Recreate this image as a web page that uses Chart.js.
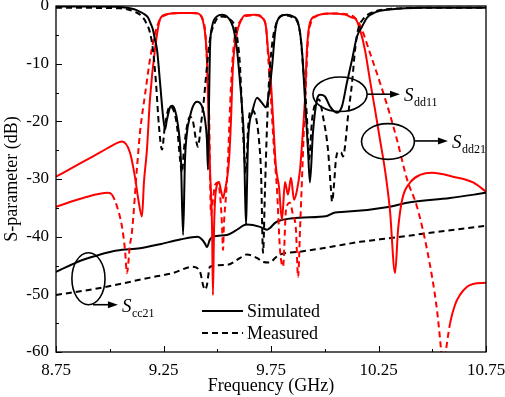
<!DOCTYPE html>
<html><head><meta charset="utf-8">
<script src="https://cdn.jsdelivr.net/npm/chart.js@4/dist/chart.umd.min.js"></script>
<style>html,body{margin:0;padding:0;background:#fff}#wrap{width:505px;height:397px;position:relative}</style>
</head><body><div id="wrap"><canvas id="c"></canvas></div>
<script>
// ---- axis ticks ----
const xTicks = [8.75, 9.0, 9.25, 9.5, 9.75, 10.0, 10.25, 10.5, 10.75];
const yTicks = [0, -5, -10, -15, -20, -25, -30, -35, -40, -45, -50, -55, -60];

// ---- Sdd21 simulated (red solid) ----
const sdd21SimFreq = [8.750,8.862,8.955,9.038,9.057,9.094,9.117,9.131,9.150,9.159,9.173,9.187,9.210,9.234,9.257,9.327,9.396,9.420,9.434,9.443,9.452,9.457,9.466,9.476,9.480,9.485,9.490,9.499,9.508,9.517,9.527,9.536,9.545,9.555,9.564,9.573,9.592,9.606,9.629,9.676,9.708,9.727,9.736,9.745,9.759,9.773,9.787,9.801,9.815,9.829,9.843,9.857,9.871,9.885,9.899,9.908,9.917,9.931,9.955,10.024,10.094,10.127,10.145,10.164,10.187,10.210,10.234,10.257,10.280,10.303,10.327,10.341,10.360,10.397,10.443,10.499,10.597,10.690,10.750];
const sdd21SimDb = [-29.6,-27.3,-25.4,-23.7,-23.5,-25.4,-29.6,-33.1,-36.5,-30.6,-24.9,-16.2,-7.6,-2.3,-1.5,-1.2,-1.2,-1.5,-2.7,-4.6,-9.3,-16.2,-27.9,-38.8,-50.1,-38.8,-33.6,-31.0,-30.5,-31.9,-33.3,-31.9,-30.1,-26.6,-19.7,-10.5,-4.6,-2.9,-1.6,-1.5,-2.0,-3.7,-7.6,-10.5,-19.2,-27.9,-31.3,-37.1,-30.5,-32.7,-29.8,-33.6,-31.9,-28.4,-21.4,-16.2,-7.6,-2.9,-1.8,-1.3,-1.5,-2.0,-2.3,-4.1,-7.6,-12.8,-18.0,-23.2,-28.4,-35.3,-46.3,-38.8,-33.6,-30.6,-29.3,-28.9,-29.6,-30.6,-32.2];

// ---- Sdd21 measured (red dashed) ----
const sdd21MeasFreq = [8.750,8.876,8.992,9.010,9.034,9.057,9.071,9.080,9.094,9.103,9.127,9.141,9.164,9.187,9.210,9.234,9.257,9.327,9.410,9.429,9.443,9.452,9.462,9.466,9.471,9.480,9.490,9.503,9.513,9.522,9.527,9.531,9.541,9.550,9.559,9.569,9.583,9.606,9.629,9.690,9.713,9.727,9.736,9.750,9.764,9.778,9.792,9.806,9.820,9.838,9.852,9.866,9.876,9.885,9.894,9.903,9.913,9.922,9.936,9.960,10.024,10.117,10.155,10.173,10.210,10.257,10.303,10.336,10.383,10.429,10.476,10.522,10.541,10.550,10.564,10.583,10.606,10.629,10.662,10.690,10.750];
const sdd21MeasDb = [-34.8,-33.3,-32.4,-32.7,-34.8,-38.3,-42.3,-46.3,-41.4,-39.3,-27.9,-21.8,-15.4,-9.3,-4.9,-2.3,-1.6,-1.2,-1.3,-2.0,-4.1,-9.3,-18.0,-28.4,-36.2,-33.6,-31.0,-30.6,-32.7,-37.9,-42.3,-37.9,-32.7,-26.6,-18.0,-10.5,-4.9,-2.7,-1.8,-1.6,-2.2,-3.7,-8.4,-16.2,-24.9,-31.9,-42.3,-45.2,-35.3,-34.1,-36.2,-38.8,-47.0,-38.8,-30.1,-21.4,-12.8,-5.8,-2.9,-1.8,-1.3,-1.5,-2.7,-4.1,-8.1,-13.3,-18.8,-23.2,-30.1,-34.8,-42.3,-52.7,-59.6,-63.0,-59.6,-55.0,-51.8,-50.1,-48.7,-48.2,-48.0];

// ---- Sdd11 simulated (black solid) ----
const sdd11SimFreq = [8.750,8.955,9.080,9.117,9.141,9.164,9.178,9.192,9.201,9.210,9.220,9.234,9.248,9.257,9.266,9.280,9.290,9.303,9.317,9.331,9.341,9.350,9.359,9.373,9.387,9.406,9.429,9.443,9.452,9.457,9.462,9.466,9.476,9.499,9.522,9.550,9.573,9.592,9.606,9.615,9.624,9.629,9.634,9.638,9.643,9.662,9.685,9.708,9.727,9.736,9.755,9.769,9.783,9.825,9.852,9.876,9.894,9.908,9.922,9.931,9.945,9.964,9.978,10.001,10.024,10.057,10.080,10.103,10.127,10.150,10.173,10.197,10.234,10.303,10.457,10.750];
const sdd11SimDb = [-0.1,-0.1,-0.3,-0.6,-1.0,-1.5,-2.0,-3.2,-4.1,-5.8,-7.6,-13.3,-19.2,-21.4,-19.7,-17.6,-17.3,-18.0,-20.6,-26.6,-39.7,-26.6,-22.0,-19.2,-17.4,-16.6,-17.4,-19.7,-23.2,-28.4,-16.2,-7.6,-3.6,-1.8,-1.5,-2.0,-3.6,-7.6,-13.3,-17.4,-23.2,-31.9,-37.9,-31.9,-23.7,-18.5,-15.9,-16.8,-17.6,-16.2,-10.5,-4.6,-2.3,-1.5,-1.8,-2.9,-7.6,-16.2,-24.9,-30.6,-22.0,-16.2,-15.4,-15.7,-17.4,-18.5,-17.4,-13.3,-9.3,-5.3,-3.6,-2.0,-1.1,-0.6,-0.3,-0.3];

// ---- Sdd11 measured (black dashed) ----
const sdd11MeasFreq = [8.750,9.048,9.117,9.150,9.169,9.187,9.201,9.215,9.229,9.243,9.257,9.280,9.299,9.313,9.327,9.336,9.345,9.359,9.373,9.387,9.401,9.410,9.424,9.438,9.452,9.466,9.485,9.513,9.559,9.583,9.597,9.606,9.620,9.634,9.643,9.657,9.676,9.694,9.704,9.713,9.722,9.731,9.741,9.755,9.773,9.806,9.852,9.885,9.899,9.917,9.927,9.941,9.960,9.973,9.992,10.015,10.029,10.034,10.043,10.052,10.062,10.076,10.085,10.094,10.108,10.127,10.141,10.155,10.178,10.210,10.280,10.490,10.750];
const sdd11MeasDb = [-0.3,-0.4,-1.0,-1.8,-2.9,-4.6,-7.6,-13.3,-20.9,-24.9,-20.6,-17.4,-18.3,-20.9,-26.6,-28.9,-24.9,-20.9,-19.2,-20.0,-23.2,-24.4,-20.6,-16.2,-10.5,-5.8,-3.2,-1.8,-2.3,-3.7,-6.7,-10.5,-22.0,-28.9,-21.4,-18.0,-18.8,-23.2,-29.3,-42.8,-31.9,-21.4,-12.8,-6.7,-3.2,-1.6,-2.0,-4.6,-10.5,-19.2,-26.6,-19.7,-16.6,-16.2,-19.2,-24.9,-31.9,-33.9,-31.0,-26.6,-25.3,-25.4,-26.1,-24.4,-19.2,-13.3,-7.6,-4.1,-2.3,-1.3,-0.6,-0.3,-0.3];

// ---- Scc21 simulated (black solid) ----
const scc21SimFreq = [8.750,8.876,8.955,9.034,9.141,9.234,9.327,9.410,9.429,9.443,9.452,9.466,9.480,9.545,9.592,9.620,9.638,9.699,9.731,9.745,9.769,9.792,9.885,10.010,10.048,10.094,10.303,10.383,10.583,10.750];
const scc21SimDb = [-46.1,-44.0,-43.1,-42.4,-42.0,-41.3,-40.5,-40.0,-40.5,-41.2,-41.8,-40.5,-40.0,-39.7,-38.8,-38.1,-37.9,-38.3,-38.8,-38.5,-37.6,-37.2,-36.7,-36.4,-35.8,-35.7,-34.8,-34.1,-33.3,-32.4];

// ---- Scc21 measured (black dashed) ----
const scc21MeasFreq = [8.750,8.955,9.187,9.294,9.387,9.420,9.434,9.443,9.452,9.466,9.545,9.606,9.638,9.685,9.713,9.745,9.769,9.792,9.885,10.024,10.164,10.317,10.536,10.750];
const scc21MeasDb = [-50.1,-48.9,-47.1,-46.3,-45.2,-46.1,-48.4,-49.2,-48.4,-45.2,-44.9,-43.7,-43.1,-43.7,-44.4,-44.5,-43.7,-43.1,-42.6,-41.8,-40.9,-40.2,-39.1,-38.1];

const SERIF = "'Liberation Serif', 'Times New Roman', serif";
Chart.defaults.font.family = SERIF;
Chart.defaults.color = '#000';

const zip = (xs, ys) => xs.map((v, i) => ({x: v, y: ys[i]}));
const DASH = [6, 4];
function ds(label, xs, ys, color, dashed, extra) {
  return Object.assign({
    label, data: zip(xs, ys), borderColor: color, backgroundColor: color,
    borderWidth: 2, borderDash: dashed ? DASH : [], pointRadius: 0,
    cubicInterpolationMode: 'monotone', fill: false
  }, extra || {});
}

// annotation layout (data coordinates)
const ellipses = [
  {cx: 10.071, cy: -15.3, rx: 0.126, ry: 3.0},
  {cx: 10.294, cy: -23.5, rx: 0.123, ry: 3.1},
  {cx: 8.901, cy: -47.3, rx: 0.077, ry: 4.5}
];
const arrows = [
  {x0: 10.197, x1: 10.350, y: -15.3, label: 'S', sub: 'dd11'},
  {x0: 10.420, x1: 10.573, y: -23.4, label: 'S', sub: 'dd21'},
  {x0: 8.922, x1: 9.038, y: -51.8, label: 'S', sub: 'cc21'}
];
const legendItems = [
  {text: 'Simulated', dash: [], x0: 9.429, x1: 9.620, y: -52.9},
  {text: 'Measured', dash: DASH, x0: 9.429, x1: 9.620, y: -56.7}
];

const decor = {
  id: 'decor',
  afterDatasetsDraw(chart) {
    const {ctx, chartArea: a, scales: {x, y}} = chart;
    ctx.save();
    ctx.strokeStyle = '#000';
    ctx.fillStyle = '#000';
    ctx.setLineDash([]);
    ctx.lineWidth = 1.3;
    ctx.strokeRect(a.left, a.top, a.right - a.left, a.bottom - a.top);
    ctx.lineWidth = 1;
    ctx.beginPath();
    xTicks.forEach((v, i) => {
      const px = Math.round(x.getPixelForValue(v)) + 0.5;
      const len = i % 2 === 0 ? 6 : 3;
      ctx.moveTo(px, a.bottom); ctx.lineTo(px, a.bottom - len);
    });
    yTicks.forEach(v => {
      const py = Math.round(y.getPixelForValue(v)) + 0.5;
      const len = v % 10 === 0 ? 6 : 3;
      ctx.moveTo(a.left, py); ctx.lineTo(a.left + len, py);
    });
    ctx.stroke();

    // ellipses
    ctx.lineWidth = 1.6;
    ellipses.forEach(e => {
      const cx = x.getPixelForValue(e.cx), cy = y.getPixelForValue(e.cy);
      const rx = Math.abs(x.getPixelForValue(e.cx + e.rx) - cx);
      const ry = Math.abs(y.getPixelForValue(e.cy + e.ry) - cy);
      ctx.beginPath(); ctx.ellipse(cx, cy, rx, ry, 0, 0, Math.PI * 2); ctx.stroke();
    });
    // arrows + labels
    arrows.forEach(ar => {
      const x0 = x.getPixelForValue(ar.x0), x1 = x.getPixelForValue(ar.x1), py = y.getPixelForValue(ar.y);
      ctx.lineWidth = 1.6;
      ctx.beginPath(); ctx.moveTo(x0, py); ctx.lineTo(x1 - 6, py); ctx.stroke();
      ctx.beginPath(); ctx.moveTo(x1, py); ctx.lineTo(x1 - 10, py - 3.5); ctx.lineTo(x1 - 10, py + 3.5); ctx.closePath(); ctx.fill();
      ctx.textAlign = 'left'; ctx.textBaseline = 'alphabetic';
      ctx.font = 'italic 19px ' + SERIF;
      const sx = x1 + 4;
      ctx.fillText(ar.label, sx, py + 7);
      const w = ctx.measureText(ar.label).width;
      ctx.font = '12px ' + SERIF;
      ctx.fillText(ar.sub, sx + w + 0.5, py + 12);
    });
    // legend
    legendItems.forEach(it => {
      const x0 = x.getPixelForValue(it.x0), x1 = x.getPixelForValue(it.x1), py = y.getPixelForValue(it.y);
      ctx.lineWidth = 2; ctx.setLineDash(it.dash);
      ctx.beginPath(); ctx.moveTo(x0, py); ctx.lineTo(x1, py); ctx.stroke();
      ctx.setLineDash([]);
      ctx.font = '18px ' + SERIF; ctx.textAlign = 'left'; ctx.textBaseline = 'middle';
      ctx.fillText(it.text, x1 + 4, py + 1);
    });
    ctx.restore();
  }
};

const isMajorX = v => Math.abs((v - 8.75) / 0.5 - Math.round((v - 8.75) / 0.5)) < 1e-6;

new Chart(document.getElementById('c'), {
  type: 'line',
  data: {
    datasets: [
      ds('Sdd11 simulated', sdd11SimFreq, sdd11SimDb, '#000000', false),
      ds('Sdd11 measured', sdd11MeasFreq, sdd11MeasDb, '#000000', true),
      ds('Sdd21 simulated', sdd21SimFreq, sdd21SimDb, '#ff0000', false),
      ds('Sdd21 measured', sdd21MeasFreq, sdd21MeasDb, '#ff0000', true, {
        segment: { borderDash: c => (c.p0.parsed.x < 9.0 || c.p0.parsed.x >= 10.58) ? [] : DASH }
      }),
      ds('Scc21 simulated', scc21SimFreq, scc21SimDb, '#000000', false),
      ds('Scc21 measured', scc21MeasFreq, scc21MeasDb, '#000000', true)
    ]
  },
  options: {
    responsive: true, maintainAspectRatio: false, animation: false, devicePixelRatio: 1,
    layout: {padding: {top: 6, right: 19, left: 0, bottom: 0}},
    plugins: {legend: {display: false}, tooltip: {enabled: false}},
    scales: {
      x: {
        type: 'linear', min: 8.75, max: 10.75,
        afterBuildTicks: s => { s.ticks = xTicks.map(v => ({value: v})); },
        afterFit: s => { s.height = 45; s.paddingLeft = 0; s.paddingRight = 0; },
        ticks: {autoSkip: false, maxRotation: 0, minRotation: 0, padding: 8,
          font: {size: 17, family: SERIF}, color: '#000',
          callback: v => isMajorX(v) ? v.toFixed(2) : ''},
        grid: {display: false, drawTicks: false},
        border: {display: false},
        title: {display: true, text: 'Frequency (GHz)', font: {size: 18, family: SERIF}, color: '#000', padding: {top: 0, bottom: 0}}
      },
      y: {
        type: 'linear', min: -60, max: 0,
        afterBuildTicks: s => { s.ticks = yTicks.map(v => ({value: v})); },
        afterFit: s => { s.width = 56; s.paddingTop = 0; s.paddingBottom = 0; },
        ticks: {autoSkip: false, padding: 7, font: {size: 17, family: SERIF}, color: '#000',
          callback: v => (v % 10 === 0 ? String(v) : '')},
        grid: {display: false, drawTicks: false},
        border: {display: false},
        title: {display: true, text: 'S-parameter (dB)', font: {size: 18, family: SERIF}, color: '#000', padding: {top: 1, bottom: 0}}
      }
    }
  },
  plugins: [decor]
});
</script>
</body></html>
